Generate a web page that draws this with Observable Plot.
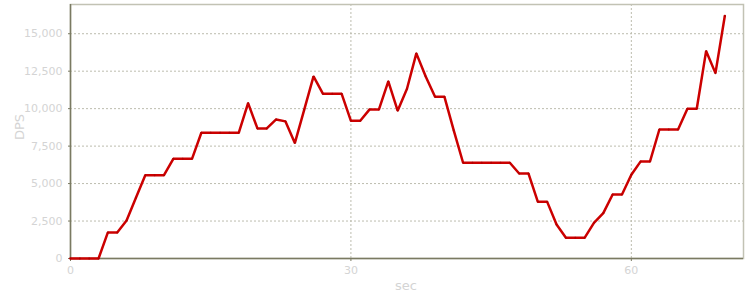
<!DOCTYPE html>
<html>
<head>
<meta charset="utf-8">
<script src="https://cdn.jsdelivr.net/npm/d3@7"></script>
<script src="https://cdn.jsdelivr.net/npm/@observablehq/plot@0.6"></script>
<style>
  html, body { margin: 0; padding: 0; background: #fff; }
  #chart { width: 750px; height: 300px; }
</style>
</head>
<body>
<div id="chart"></div>
<script>
const seconds = d3.range(0, 71);
const dps = [
  0, 0, 0, 0, 1740, 1740, 2540, 4060, 5560, 5560,
  5560, 6650, 6650, 6650, 8390, 8390, 8390, 8390, 8390, 10370,
  8680, 8680, 9280, 9150, 7700, 9920, 12150, 11000, 11000, 11000,
  9190, 9190, 9950, 9950, 11820, 9860, 11330, 13690, 12150, 10800,
  10800, 8550, 6390, 6390, 6390, 6390, 6390, 6390, 5670, 5670,
  3780, 3780, 2270, 1380, 1380, 1380, 2380, 3030, 4270, 4270,
  5590, 6480, 6480, 8610, 8610, 8610, 9990, 9990, 13840, 12370,
  16180
];
const xTicks = [0, 30, 60];
const yTicks = [0, 2500, 5000, 7500, 10000, 12500, 15000];
const xLabel = "sec";
const yLabel = "DPS";

const data = seconds.map((s, i) => ({ s, v: dps[i] }));
const fmt = d3.format(",");

const chart = Plot.plot({
  width: 750,
  height: 300,
  marginLeft: 70,
  marginRight: 7,
  marginTop: 4,
  marginBottom: 42,
  style: { fontFamily: "DejaVu Sans, Verdana, sans-serif", fontSize: "11px", background: "#fff" },
  x: { domain: [0, 72], ticks: xTicks, label: null },
  y: { domain: [0, 16950], ticks: yTicks, label: null },
  marks: [
    Plot.ruleY(yTicks.filter(d => d > 0), { stroke: "#bcbcae", strokeDasharray: "2,2", strokeWidth: 1 }),
    Plot.ruleX(xTicks.filter(d => d > 0), { stroke: "#bcbcae", strokeDasharray: "2,2", strokeWidth: 1 }),
    Plot.frame({ stroke: "#c2c2b4", strokeWidth: 1.5 }),
    Plot.ruleX([0], { stroke: "#7a7a62", strokeWidth: 1.5 }),
    Plot.ruleY([0], { stroke: "#7a7a62", strokeWidth: 1.5 }),
    Plot.axisX({ ticks: xTicks, tickSize: 3, tickPadding: 5, stroke: "#7a7a62", color: "#d4d4d4", label: null }),
    Plot.axisY({ ticks: yTicks, tickSize: 2, tickPadding: 6, tickFormat: fmt, color: "#d4d4d4", stroke: "#7a7a62", label: null }),
    Plot.line(data, { x: "s", y: "v", stroke: "#cc0000", strokeWidth: 2.5, strokeLinejoin: "miter" }),
    Plot.dot(data, { x: "s", y: "v", r: 1, fill: "#b00000", stroke: "none" })
  ]
});

const svg = d3.select(chart);
svg.append("text")
  .attr("x", 406).attr("y", 290)
  .attr("text-anchor", "middle")
  .attr("fill", "#d4d4d4")
  .style("font-size", "13px")
  .text(xLabel);
svg.append("text")
  .attr("transform", "translate(24,127) rotate(-90)")
  .attr("text-anchor", "middle")
  .attr("fill", "#d4d4d4")
  .style("font-size", "13px")
  .text(yLabel);

document.getElementById("chart").appendChild(chart);
</script>
</body>
</html>
